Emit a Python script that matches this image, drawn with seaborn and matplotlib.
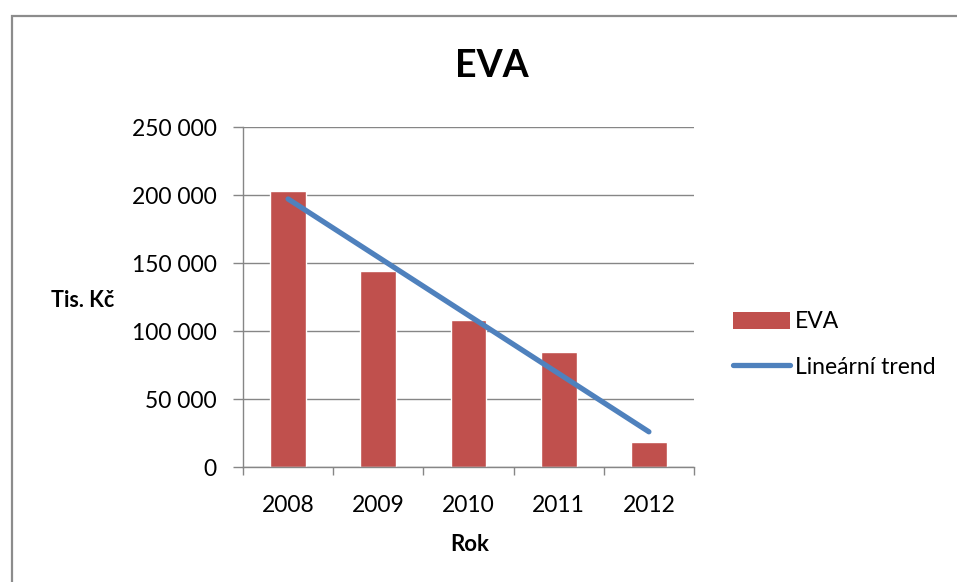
import numpy as np
import pandas as pd
import matplotlib
matplotlib.use("Agg")
import matplotlib.pyplot as plt
from matplotlib.patches import Rectangle, Patch
from matplotlib.lines import Line2D
from matplotlib.ticker import FuncFormatter, FixedLocator
import seaborn as sns

# EVA values in thousands of CZK
years = ["2008", "2009", "2010", "2011", "2012"]
eva = [203000, 144000, 108000, 85000, 18500]
y_ticks = [0, 50000, 100000, 150000, 200000, 250000]

bar_color = "#C0504D"
trend_color = "#4F81BD"
axis_gray = "#868686"

sns.set_style("white")
plt.rcParams["font.family"] = ["Lato", "DejaVu Sans"]
plt.rcParams["text.color"] = "black"
plt.rcParams["axes.labelcolor"] = "black"

df = pd.DataFrame({"Rok": years, "EVA": eva})

fig = plt.figure(figsize=(9.57, 5.82), dpi=100)
ax = fig.add_axes([243 / 957, 1 - 467.3 / 582, (694 - 243) / 957, 340 / 582])

sns.barplot(data=df, x="Rok", y="EVA", color=bar_color, width=0.395,
            saturation=1, ax=ax, zorder=2)

# least-squares linear trend through the yearly values
pos = np.arange(len(years))
slope, intercept = np.polyfit(pos, np.array(eva, dtype=float), 1)
trend = slope * pos + intercept
sns.lineplot(x=pos, y=trend, color=trend_color, linewidth=3.8, ax=ax,
             solid_capstyle="round", zorder=3)

ax.set_xlim(-0.5, len(years) - 0.5)
ax.set_ylim(0, 250000)
ax.yaxis.set_major_locator(FixedLocator(y_ticks))
ax.yaxis.set_major_formatter(FuncFormatter(lambda v, p: f"{int(v):,}".replace(",", " ")))

ax.grid(axis="y", color=axis_gray, linewidth=1.0, zorder=0)
ax.set_axisbelow(True)
for side in ("top", "right"):
    ax.spines[side].set_visible(False)
for side in ("left", "bottom"):
    ax.spines[side].set_color(axis_gray)
    ax.spines[side].set_linewidth(1.0)

ax.tick_params(axis="y", which="major", length=7, width=1.0, color=axis_gray,
               labelcolor="black", labelsize=16.5, pad=12, left=True)
ax.tick_params(axis="x", which="major", length=0, labelcolor="black",
               labelsize=16.5, pad=20)
ax.set_xticks(np.arange(-0.5, len(years)), minor=True)
ax.tick_params(axis="x", which="minor", length=6, width=1.0, color=axis_gray,
               bottom=True, direction="out")

ax.set_ylabel("Tis. Kč", rotation=0, fontsize=15.5, fontweight="bold",
              ha="center", va="center")
ax.yaxis.set_label_coords(-0.355, 0.492)
ax.set_xlabel("Rok", fontsize=16, fontweight="bold", va="center")
ax.xaxis.set_label_coords(0.503, -0.2285)

fig.text(492 / 957, 1 - 66 / 582, "EVA", fontsize=27, fontweight="bold",
         ha="center", va="center")

handles = [Patch(facecolor=bar_color, edgecolor="none"),
           Line2D([0], [0], color=trend_color, linewidth=3.8, solid_capstyle="round")]
fig.legend(handles, ["EVA", "Lineární trend"], loc="center left",
           bbox_to_anchor=(733 / 957, 1 - 344.5 / 582), frameon=False,
           fontsize=16.5, borderpad=0, borderaxespad=0, handlelength=2.5,
           handleheight=0.75, handletextpad=0.2, labelspacing=1.05)

# outer chart frame
fig.patches.append(Rectangle((11.5 / 957, -0.2), 1.2, 1.2 - 15.5 / 582,
                             transform=fig.transFigure, fill=False,
                             edgecolor="#8c8c8c", linewidth=1.6, clip_on=False))

fig.savefig("out.png", dpi=100)
